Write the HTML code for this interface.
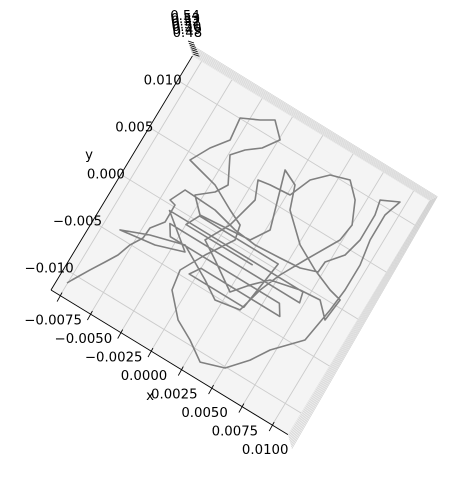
<!DOCTYPE html>
<html><head><meta charset="utf-8"><style>
html,body{margin:0;padding:0;background:#fff;width:469px;height:485px;overflow:hidden}
svg{display:block}
text{font-family:"DejaVu Sans","Liberation Sans",sans-serif;font-size:13.3px;fill:#000}
</style></head><body>
<svg id="chart" width="469" height="485" viewBox="0 0 469 485" xmlns="http://www.w3.org/2000/svg">
<g id="walls"></g>
<g id="floor"></g>
<g id="grid"></g>
<g id="axes"></g>
<g id="series"></g>
<text x="89" y="159" text-anchor="middle">y</text>
<text x="150" y="400" text-anchor="middle">x</text>
</svg>
<script>
// data (units of 1e-4)
const xTicks = [-0.0075,-0.005,-0.0025,0,0.0025,0.005,0.0075,0.01];
const xTickLabels = ["\u22120.0075","\u22120.0050","\u22120.0025","0.0000","0.0025","0.0050","0.0075","0.0100"];
const yTicks = [-0.01,-0.005,0,0.005,0.01];
const yTickLabels = ["\u22120.010","\u22120.005","0.000","0.005","0.010"];
const zTickLabels = ["0.54","0.53","0.52","0.51","0.50","0.49","0.48"];
const walkX = [-75.4,-73.5,-66.3,-60.1,-54.9,-51.3,-46,-45.4,-38.5,-38.7,-43.5,-38.1,-25.5,-12.8,6.6,24.1,43.9,59.6,71.9,72.5,82,85.6,85.5,83.1,95.8,91.5,91.6,94.7,94.7,93,88.8,71.4,63,50.8,33.6,19.5,5,-9.6,-12,-2.4,10.2,7.8,-3.7,-21.9,-36.4,-46.1,-38.4,-29.2,-31.2,-18.4,-9.4,0.9,-7,-16.5,-23.8,-14,-19.3,-30.3,-20,-4.3,19.3,27.7,14.9,26.3,32.4,51.2,69.4,85.7,95.4,93.6,83.3,67.6,45.9,35.6,26.1,5.4,-7.9,1.7,7.7,2.2,11.3,27,33.6,43.8,57.7,68,75.3,73.5,59.7,50.1,43.5,38.7,20,6.7,-18.1,-42.9,-62.8,-36.2,-15.6,-40,70,72,-35,-30,60,65,0,-5,40,45,-20,-25,30];
const walkY = [-110,-105.3,-88.9,-75.6,-64,-50.5,-38.9,-27.8,-16,1.9,3.4,18.3,17.7,17,11,8.8,10.6,12.3,17.7,28.8,43.7,62.5,89,103,111,93.8,67.3,43.1,16.5,-6.1,-41.3,-65.7,-83,-101,-108.3,-95.9,-86,-65.6,-46.2,-22.7,3.2,17.2,24.1,36.5,41,44,62.8,78.5,100.4,108.3,115.4,102.3,87.5,77.9,66.9,42.6,31,19.2,6,7.7,10.3,27.6,81.3,74.4,52.6,30.2,17.8,9.4,6.4,-16.3,-3.1,-4.8,-11.3,-24.7,-39.6,-21.8,-11,12.5,43.8,60.7,62.6,64.3,85.4,98.8,104.4,91.2,70.4,53,20.9,-2.7,-23.8,-48.8,-52.9,-42.1,-24.4,-33.3,-43.6,-38.7,-29.9,-5,-5,-15,-15,-25,-25,-35,-35,-45,-45,5,5,-8,-8];
const unit = 1e-4;

const NS="http://www.w3.org/2000/svg";
const X0=-0.00825, X1=0.0113, Y0=-0.0123, Y1=0.0126;
const O=[51,290];
const EX=[30.3/0.0025,18.5/0.0025], EY=[28.4/0.005,-47/0.005];
function P(x,y){return [O[0]+(x-X0)*EX[0]+(y-Y0)*EY[0], O[1]+(x-X0)*EX[1]+(y-Y0)*EY[1]];}
function mk(tag,attrs,parent){const e=document.createElementNS(NS,tag);for(const k in attrs)e.setAttribute(k,attrs[k]);parent.appendChild(e);return e;}
const pts=a=>a.map(p=>p[0].toFixed(1)+","+p[1].toFixed(1)).join(" ");

const c00=P(X0,Y0),c10=P(X1,Y0),c11=P(X1,Y1),c01=P(X0,Y1);
const walls=document.getElementById('walls');
const off=[4,14];
const wallTop=mk('polygon',{points:pts([[c01[0]-4,c01[1]-13],[c11[0]+8,c11[1]-4],c11,c01]),fill:'#f4f4f4',stroke:'none'},walls);


const wallRight=mk('polygon',{points:pts([c11,[c11[0]+8,c11[1]-4],[c10[0]+off[0],c10[1]+off[1]],c10]),fill:'#f4f4f4',stroke:'none'},walls);


for(let i=0;i<=8;i++){
  const t=i/8;
  const l1=mk('line',{x1:c01[0]-4*t,y1:c01[1]-13*t,x2:c11[0]+8*t,y2:c11[1]-4*t,stroke:'#c4c4c4','stroke-width':0.5},walls);
  
  
  const l2=mk('line',{x1:c11[0]+8*t,y1:c11[1]-4*t,x2:c10[0]+off[0]*t,y2:c10[1]+off[1]*t,stroke:'#c4c4c4','stroke-width':0.5},walls);
  
  
}
const floor=mk('polygon',{points:pts([c00,c10,c11,c01]),fill:'#f4f4f4',stroke:'none'},document.getElementById('floor'));



const grid=document.getElementById('grid');
xTicks.forEach(x=>{const a=P(x,Y0),b=P(x,Y1);
  const l=mk('line',{x1:a[0],y1:a[1],x2:b[0],y2:b[1],stroke:'#cbcbcb','stroke-width':0.9},grid);
  
  });
yTicks.forEach(y=>{const a=P(X0,y),b=P(X1,y);
  const l=mk('line',{x1:a[0],y1:a[1],x2:b[0],y2:b[1],stroke:'#cbcbcb','stroke-width':0.9},grid);
  
  });

const axes=document.getElementById('axes');
const xa=mk('line',{x1:c00[0],y1:c00[1],x2:c10[0],y2:c10[1],stroke:'#000','stroke-width':0.9},axes);


const ya=mk('line',{x1:c00[0],y1:c00[1],x2:c01[0],y2:c01[1],stroke:'#000','stroke-width':0.9},axes);


xTicks.forEach((x,i)=>{const a=P(x,Y0);
  const t=mk('line',{x1:a[0]+2,y1:a[1]-3,x2:a[0]-3,y2:a[1]+6,stroke:'#000','stroke-width':0.9},axes);
  
  
  const tx=mk('text',{x:a[0]-7,y:a[1]+29,'text-anchor':'middle'},axes);
  tx.textContent=xTickLabels[i];
  
  });
yTicks.forEach((y,i)=>{const a=P(X0,y);
  const tx=mk('text',{x:a[0]-15,y:a[1]+4,'text-anchor':'middle'},axes);
  tx.textContent=yTickLabels[i];
  
  });
zTickLabels.forEach((s,i)=>{
  const tx=mk('text',{x:185+i*0.4,y:20+i*2.8,'text-anchor':'middle'},axes);
  tx.textContent=s;
  
  
  const t=mk('line',{x1:188+i*0.9,y1:41+i*2.2,x2:194+i*0.9,y2:43+i*2.2,stroke:'#000','stroke-width':0.8},axes);
  
  });

const series=document.getElementById('series');
const line=mk('polyline',{points:pts(walkX.map((v,i)=>P(v*unit,walkY[i]*unit))),fill:'none',stroke:'#808080','stroke-width':1.6,'stroke-linejoin':'round'},series);


</script>
</body></html>
